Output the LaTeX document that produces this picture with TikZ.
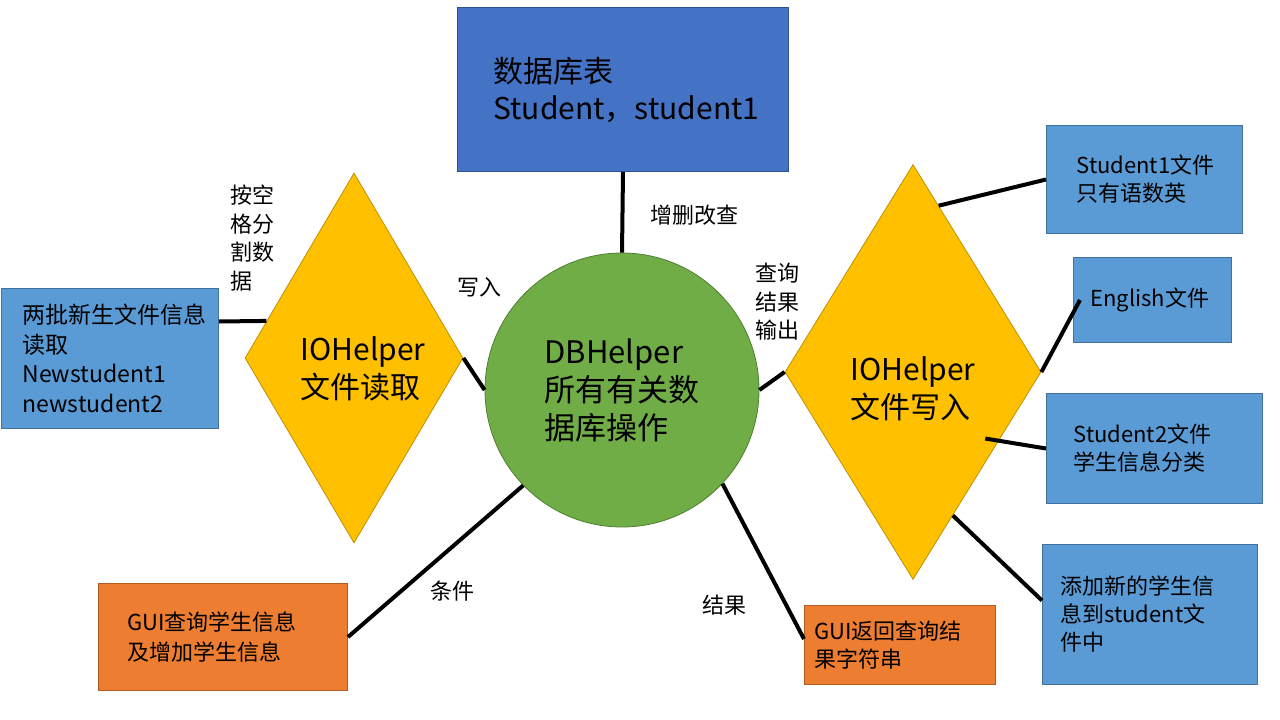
\documentclass[tikz,border=0pt]{standalone}
\usepackage{fontspec}
\setmainfont{Noto Sans CJK SC}
\usetikzlibrary{shapes.geometric,calc}
\newcommand\fsz[2]{\fontsize{#1}{#2}\selectfont}
\definecolor{dkblue}{HTML}{4472C4}
\definecolor{dkblueb}{HTML}{2F528F}
\definecolor{ltblue}{HTML}{5B9BD5}
\definecolor{ltblueb}{HTML}{41719C}
\definecolor{ygold}{HTML}{FFC000}
\definecolor{ygoldb}{HTML}{BF9000}
\definecolor{lgreen}{HTML}{70AD47}
\definecolor{lgreenb}{HTML}{507E32}
\definecolor{orng}{HTML}{ED7D31}
\definecolor{orngb}{HTML}{AE5A21}
\tikzset{
  conn/.style={line width=4pt, black},
  bx/.style={rectangle, draw, line width=1pt, anchor=north west, align=left, inner ysep=0pt},
  lbl/.style={inner sep=0pt, anchor=west, align=left, font=\fsz{22}{28.5}},
  dia/.style={diamond, fill=ygold, draw=ygoldb, line width=0.8pt, inner sep=0pt},
  dtext/.style={inner sep=0pt, align=left, font=\fsz{30}{38}}
}
\begin{document}
\begin{tikzpicture}[x=1pt,y=-1pt]
\useasboundingbox (0,0) rectangle (1280,720);
\fill[white] (0,0) rectangle (1280,720);

% boxes
\node[bx, fill=dkblue, draw=dkblueb, minimum width=331, minimum height=164, text width=259, inner xsep=36, font=\fsz{30}{37}] (tbox) at (457,7) {数据库表\\\mbox{Student，student1}};
\node[bx, fill=ltblue, draw=ltblueb, minimum width=217, minimum height=140, text width=175, inner xsep=21, font=\fsz{23}{29.5}] (lbox) at (1,288) {两批新生文件信息\\读取\\Newstudent1\\newstudent2};
\node[bx, fill=ltblue, draw=ltblueb, minimum width=196, minimum height=108, text width=136, inner xsep=30, font=\fsz{22}{28}] (s1) at (1046,125) {Student1文件\\只有语数英};
\node[bx, fill=ltblue, draw=ltblueb, minimum width=158, minimum height=85, text width=124, inner xsep=17, font=\fsz{22}{28}] (en) at (1073,257) {English文件};
\node[bx, fill=ltblue, draw=ltblueb, minimum width=216, minimum height=110, text width=162, inner xsep=27, font=\fsz{22}{28}] (s2) at (1046,393) {Student2文件\\学生信息分类};
\node[bx, fill=ltblue, draw=ltblueb, minimum width=215, minimum height=140, text width=179, inner xsep=18, font=\fsz{22}{28}] (add) at (1042,544) {添加新的学生信\\息到student文\\件中};
\node[bx, fill=orng, draw=orngb, minimum width=249, minimum height=107, text width=191, inner xsep=29, font=\fsz{22}{30}] (o1) at (98,583) {GUI查询学生信息\\及增加学生信息};
\node[bx, fill=orng, draw=orngb, minimum width=191, minimum height=79, text width=171, inner xsep=10, font=\fsz{22}{28}] (o2) at (804,605) {GUI返回查询结\\果字符串};

% circle
\node[circle, fill=lgreen, draw=lgreenb, line width=0.8pt, minimum size=274, inner sep=0pt, align=left, font=\fsz{31}{38}] (db) at (622,390) {DBHelper\\所有有关数\\据库操作};

% diamonds
\node[dia, minimum width=218, minimum height=370] (ldia) at (354,358) {};
\node[dtext] (ldiat) at (363,369) {IOHelper\\文件读取};
\node[dia, minimum width=256, minimum height=415] (rdia) at (913,372) {};
\node[dtext] (rdiat) at (913,389) {IOHelper\\文件写入};

% connectors
\draw[conn] (tbox.south) -- (db.north);
\draw[conn] ([yshift=37pt]lbox.east) -- ($(ldia.west)!0.2!(ldia.north)$);
\draw[conn] (ldia.east) -- (db.west);
\draw[conn] (db.east) -- (rdia.west);
\draw[conn] ($(rdia.north)!0.2!(rdia.east)$) -- (s1.west);
\draw[conn] (rdia.east) -- ([xshift=7pt]en.west);
\draw[conn] ($(rdia.east)!0.32!(rdia.south)+(-15,0)$) -- (s2.west);
\draw[conn] ($(rdia.east)!0.69!(rdia.south)$) -- ([yshift=14pt]add.west);
\draw[conn] (db.224) -- (o1.east);
\draw[conn] (db.317) -- ([yshift=6pt]o2.west);

% labels
\node[lbl] (l1) at (650,215) {增删改查};
\node[lbl] (l2) at (457,287) {写入};
\node[lbl] (l3) at (230,238) {按空\\格分\\割数\\据};
\node[lbl] (l4) at (755,302) {查询\\结果\\输出};
\node[lbl] (l5) at (430,591) {条件};
\node[lbl] (l6) at (702,605) {结果};
\end{tikzpicture}
\end{document}
